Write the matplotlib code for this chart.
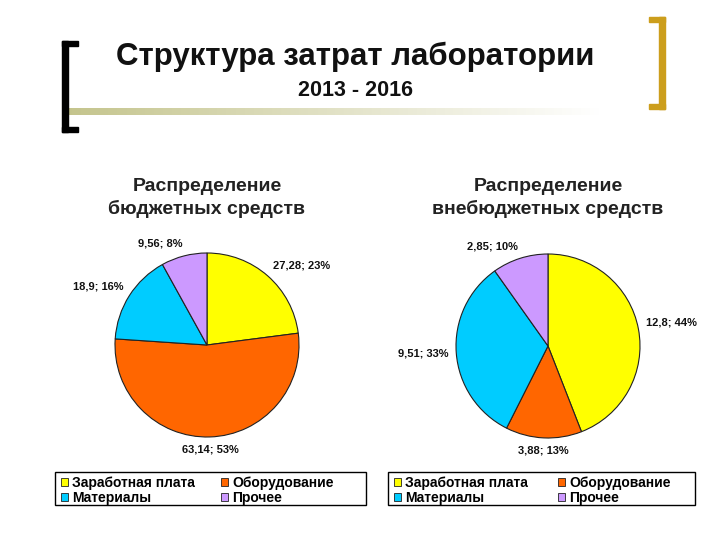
import numpy as np
import matplotlib
matplotlib.use("Agg")
from matplotlib import pyplot as plt
from matplotlib.patches import Rectangle, Patch

plt.rcParams["font.family"] = ["Liberation Sans", "DejaVu Sans"]

categories = ["Заработная плата", "Оборудование", "Материалы", "Прочее"]
colors = ["#FFFF00", "#FF6600", "#00CCFF", "#CC99FF"]
budget = [27.28, 63.14, 18.9, 9.56]
extra = [12.8, 3.88, 9.51, 2.85]

title = "Структура затрат лаборатории"
subtitle = "2013 - 2016"
pie_titles = ["Распределение\nбюджетных средств", "Распределение\nвнебюджетных средств"]

W, H = 720, 540
fig = plt.figure(figsize=(7.2, 5.4), dpi=100)

# decoration layer in pixel coordinates
deco = fig.add_axes([0, 0, 1, 1])
deco.set_xlim(0, W)
deco.set_ylim(H, 0)
deco.axis("off")

# gradient bar under the title
grad = np.linspace(1, 0, 256).reshape(1, -1)
base = np.array([196, 196, 140]) / 255
img = np.ones((1, 256, 3)) - (1 - base) * grad[..., None]
deco.imshow(img, extent=(62, 600, 115, 108), aspect="auto", zorder=1)

# left black bracket
deco.add_patch(Rectangle((62, 41), 6, 91, color="black", zorder=2))
deco.add_patch(Rectangle((62, 41), 16, 5, color="black", zorder=2))
deco.add_patch(Rectangle((62, 127), 16, 5, color="black", zorder=2))
# right gold bracket
gold = "#CC9E1C"
deco.add_patch(Rectangle((659, 17), 6, 92, color=gold, zorder=2))
deco.add_patch(Rectangle((649, 17), 16, 5, color=gold, zorder=2))
deco.add_patch(Rectangle((649, 104), 16, 5, color=gold, zorder=2))

deco.text(355, 57, title, ha="center", va="center", fontsize=22.5,
          fontweight="bold", color="#111111")
deco.text(355, 90, subtitle, ha="center", va="center", fontsize=15.5,
          fontweight="bold", color="#111111")


def fmt(v):
    return ("%g" % v).replace(".", ",")


def draw_pie(cx, cy, values, ptitle, leg_box, col2_x):
    r = 92
    half = 1.7 * r
    ax = fig.add_axes([(cx - half) / W, (H - cy - half) / H, 2 * half / W, 2 * half / H])
    wedges, _ = ax.pie(values, colors=colors, startangle=90, counterclock=False,
                       radius=1, wedgeprops=dict(edgecolor="#222222", linewidth=0.8))
    ax.set_xlim(-1.7, 1.7)
    ax.set_ylim(-1.7, 1.7)
    ax.set_aspect("equal")
    ax.axis("off")
    total = sum(values)
    for w, v in zip(wedges, values):
        ang = np.deg2rad((w.theta1 + w.theta2) / 2)
        c, s = np.cos(ang), np.sin(ang)
        ha = "left" if c > 0.15 else ("right" if c < -0.15 else "center")
        va = "bottom" if s > 0.15 else ("top" if s < -0.15 else "center")
        ax.text(1.08 * c, 1.08 * s, "%s; %d%%" % (fmt(v), round(v / total * 100)),
                ha=ha, va=va, fontsize=8, fontweight="bold", color="#111111")
    deco.text(cx, 198, ptitle, ha="center", va="center", fontsize=14,
              fontweight="bold", color="#222222", linespacing=1.4)

    # legend box drawn by hand, two legends for the two columns
    x0, y0, x1, y1 = leg_box
    deco.add_patch(Rectangle((x0, y0), x1 - x0, y1 - y0, fill=False,
                             edgecolor="black", linewidth=1.0, zorder=3))
    handles = [Patch(facecolor=col, edgecolor="#222222", linewidth=0.6) for col in colors]
    for idx, lx in (((0, 2), x0 + 6), ((1, 3), col2_x)):
        fig.legend([handles[i] for i in idx], [categories[i] for i in idx],
                   loc="upper left", bbox_to_anchor=(lx / W, 1 - (y0 + 4) / H),
                   frameon=False, prop=dict(size=10, weight="bold"),
                   handlelength=0.5, handleheight=0.5, handletextpad=0.3,
                   labelspacing=0.05, borderpad=0.0, borderaxespad=0.0)


draw_pie(207, 345, budget, pie_titles[0], (55, 472, 366, 505), 221)
draw_pie(548, 346, extra, pie_titles[1], (388, 472, 695, 505), 558)

fig.savefig("out.png", dpi=100)
